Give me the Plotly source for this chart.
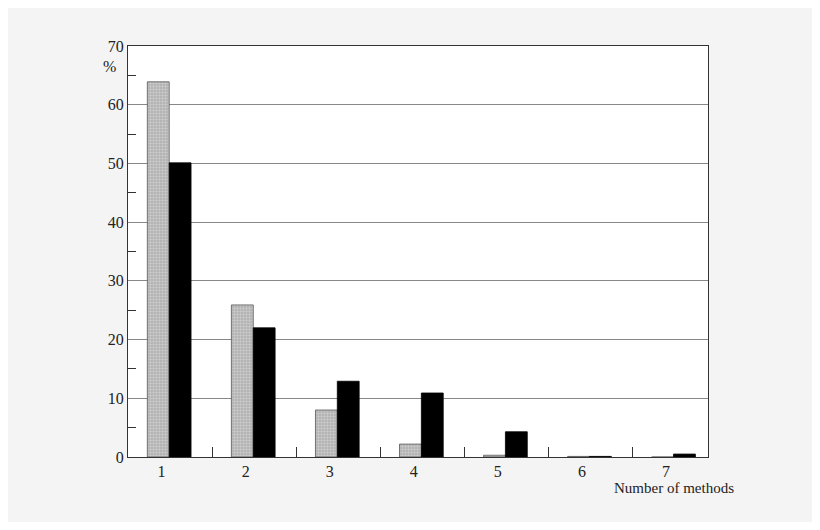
import plotly.graph_objects as go

methods = [1, 2, 3, 4, 5, 6, 7]
grey_pct = [63.9, 25.9, 8.0, 2.2, 0.3, 0.1, 0.0]
black_pct = [50.1, 22.0, 12.9, 10.9, 4.3, 0.1, 0.5]
y_ticks = [0, 10, 20, 30, 40, 50, 60, 70]

fig = go.Figure()
fig.add_trace(go.Bar(
    x=methods, y=grey_pct, width=0.26, offset=-0.17,
    marker=dict(color="#b4b4b4", line=dict(color="#555", width=0.8),
                pattern=dict(shape="+", fgcolor="#eeeeee", size=3, solidity=0.3)),
    showlegend=False))
fig.add_trace(go.Bar(
    x=methods, y=black_pct, width=0.26, offset=0.09,
    marker=dict(color="black", line=dict(color="black", width=0.8)),
    showlegend=False))

fig.add_annotation(x=0, xref="paper", y=66.5, yref="y", text="%", showarrow=False,
                   xanchor="right", xshift=-10, font=dict(size=16))
fig.add_annotation(x=7.1, y=0, text="Number of methods", showarrow=False,
                   yanchor="top", yshift=-21, xanchor="center", font=dict(size=15))

fig.update_layout(
    width=804, height=514,
    margin=dict(l=120, r=104, t=38, b=65),
    paper_bgcolor="#f4f4f4", plot_bgcolor="white",
    font=dict(family="Liberation Serif", size=16, color="#222"),
    barmode="overlay",
    xaxis=dict(range=[0.6, 7.5], tickmode="array", tickvals=methods,
               ticks="", ticklabelstandoff=0, showgrid=False, showline=True,
               linecolor="#333", mirror=True, zeroline=False,
               minor=dict(tickmode="array", tickvals=[m + 0.6 for m in methods[:-1]],
                          ticks="inside", ticklen=10, tickcolor="#333")),
    yaxis=dict(range=[0, 70], tickmode="array", tickvals=y_ticks,
               ticks="", showgrid=True, gridcolor="#888", gridwidth=1,
               showline=True, linecolor="#333", mirror=True, zeroline=False,
               minor=dict(tickmode="array", tickvals=[v + 5 for v in y_ticks[:-1]],
                          ticks="inside", ticklen=8, tickcolor="#333")),
)

fig.write_html("out.html")
